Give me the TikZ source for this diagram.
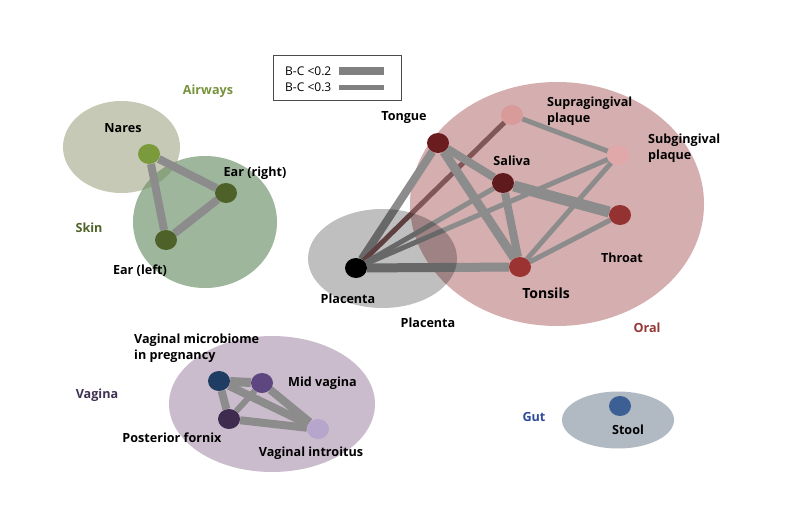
\documentclass[tikz,border=0pt]{standalone}
\usepackage{fontspec}
\setmainfont{Open Sans}
\usetikzlibrary{shapes.geometric}
\pgfdeclarelayer{bg}
\pgfdeclarelayer{edgelayer}
\pgfdeclarelayer{shade}
\pgfsetlayers{bg,edgelayer,shade,main}
\definecolor{airfill}{RGB}{197,201,181}
\definecolor{skinfill}{RGB}{158,182,156}
\definecolor{overlapgreen}{RGB}{138,163,126}
\definecolor{oralfill}{RGB}{213,174,175}
\definecolor{vagfill}{RGB}{203,188,205}
\definecolor{gutfill}{RGB}{177,185,195}
\definecolor{edgegray}{RGB}{140,140,140}
\definecolor{edgebrown}{RGB}{128,86,86}
\definecolor{legbar}{RGB}{128,128,128}
\definecolor{cNares}{RGB}{122,154,60}
\definecolor{cEar}{RGB}{78,97,40}
\definecolor{cTongue}{RGB}{106,28,30}
\definecolor{cSupra}{RGB}{217,154,154}
\definecolor{cSub}{RGB}{224,168,168}
\definecolor{cSaliva}{RGB}{94,26,28}
\definecolor{cThroat}{RGB}{148,50,50}
\definecolor{cTonsils}{RGB}{155,51,51}
\definecolor{cVMP}{RGB}{31,61,99}
\definecolor{cMid}{RGB}{94,71,128}
\definecolor{cPost}{RGB}{62,43,78}
\definecolor{cIntro}{RGB}{182,166,204}
\definecolor{cStool}{RGB}{60,95,148}
\definecolor{tAir}{RGB}{119,147,60}
\definecolor{tSkin}{RGB}{79,98,40}
\definecolor{tOral}{RGB}{149,55,53}
\definecolor{tVag}{RGB}{64,49,81}
\definecolor{tGut}{RGB}{46,74,155}
\begin{document}
\begin{tikzpicture}[x=1pt,y=-1pt,
  site/.style={ellipse, minimum width=22pt, minimum height=20pt, inner sep=0pt},
  thk/.style={draw=edgegray, line width=8pt},
  thn/.style={draw=edgegray, line width=5pt},
  lab/.style={font=\bfseries\fontsize{12.6}{15.5}\selectfont, inner sep=0pt},
  grp/.style={font=\bfseries\fontsize{12.6}{15.5}\selectfont, inner sep=0pt},
  legtxt/.style={font=\fontsize{12}{14}\selectfont, inner sep=0pt, anchor=west},
]
\useasboundingbox (0,0) rectangle (800,530);
\begin{pgfonlayer}{bg}
\fill[white] (0,0) rectangle (800,530);
% group regions
\fill[airfill] (121.5,147) ellipse [x radius=58.5pt, y radius=46pt];
\fill[skinfill] (205,222) ellipse [x radius=72pt, y radius=66pt];
\begin{scope}
  \clip (121.5,147) ellipse [x radius=58.5pt, y radius=46pt];
  \fill[overlapgreen] (205,222) ellipse [x radius=72pt, y radius=66pt];
\end{scope}
\fill[oralfill] (557,204) ellipse [x radius=147pt, y radius=122pt];
\fill[vagfill] (272,404) ellipse [x radius=103pt, y radius=68pt];
\fill[gutfill] (618,420) ellipse [x radius=56pt, y radius=28.5pt];
\end{pgfonlayer}
\begin{pgfonlayer}{shade}
\fill[black, fill opacity=0.25] (382.5,258.5) ellipse [x radius=74.5pt, y radius=49.5pt];
\end{pgfonlayer}

% nodes
\node[site, fill=cNares] (nares) at (149,154) {};
\node[site, fill=cEar] (earR) at (226,193) {};
\node[site, fill=cEar] (earL) at (166,240) {};
\node[site, fill=cTongue] (tongue) at (438,143) {};
\node[site, fill=cSupra] (supra) at (512,115) {};
\node[site, fill=cSub] (sub) at (618,155) {};
\node[site, fill=cSaliva] (saliva) at (503,183) {};
\node[site, fill=cThroat] (throat) at (620,215) {};
\node[site, fill=cTonsils] (tonsils) at (520,267) {};
\node[site, fill=black] (plac) at (356,268) {};
\node[site, fill=cVMP] (vmp) at (219,381) {};
\node[site, fill=cMid] (mid) at (262,383) {};
\node[site, fill=cPost] (post) at (229,419) {};
\node[site, fill=cIntro] (intro) at (318,429) {};
\node[site, fill=cStool] (stool) at (620,406) {};

% edges
\begin{pgfonlayer}{edgelayer}
\draw[thk] (nares) -- (earR);
\draw[thk] (nares) -- (earL);
\draw[thk] (earR) -- (earL);
\draw[thk] (plac) -- (tongue);
\draw[draw=edgebrown, line width=5pt] (plac) -- (supra);
\draw[thn] (plac) -- (saliva);
\draw[thn] (plac) -- (sub);
\draw[thk, line width=9pt] (plac) -- (tonsils);
\draw[thk] (tongue) -- (saliva);
\draw[thk, line width=9pt] (tongue) -- (tonsils);
\draw[thk, line width=11pt] (saliva) -- (throat);
\draw[thk] (saliva) -- (tonsils);
\draw[thn] (supra) -- (sub);
\draw[thn] (sub) -- (tonsils);
\draw[thn] (throat) -- (tonsils);
\draw[thk, line width=9pt] (vmp) -- (mid);
\draw[thk] (vmp) -- (post);
\draw[thk] (vmp) -- (intro);
\draw[thn, line width=6pt] (mid) -- (post);
\draw[thk] (mid) -- (intro);
\draw[thk] (post) -- (intro);
\end{pgfonlayer}

% labels
\node[grp, text=tAir] (lAir) at (208,91) {Airways};
\node[lab] (lNares) at (123,128) {Nares};
\node[lab] (lEarR) at (255,173) {Ear (right)};
\node[grp, text=tSkin] (lSkin) at (89,228) {Skin};
\node[lab] (lEarL) at (140,271) {Ear (left)};
\node[lab] (lTongue) at (404,118) {Tongue};
\node[lab, anchor=north west, align=left] (lSupra) at (547,97) {Supragingival\\plaque};
\node[lab, anchor=north west, align=left] (lSub) at (648,134) {Subgingival\\plaque};
\node[lab] (lSaliva) at (512,161) {Saliva};
\node[lab] (lThroat) at (622,258) {Throat};
\node[lab, font=\bfseries\fontsize{14}{16}\selectfont] (lTonsils) at (546,293) {Tonsils};
\node[lab] (lPlac) at (348,299) {Placenta};
\node[lab] (gPlac) at (428,323) {Placenta};
\node[grp, text=tOral] (lOral) at (647,328) {Oral};
\node[lab, anchor=north west, align=left] (lVMP) at (134,334) {Vaginal microbiome\\in pregnancy};
\node[lab, anchor=west] (lMid) at (288,383) {Mid vagina};
\node[grp, text=tVag] (lVag) at (97,395) {Vagina};
\node[lab] (lPost) at (172,438) {Posterior fornix};
\node[lab] (lIntro) at (311,453) {Vaginal introitus};
\node[grp, text=tGut] (lGut) at (534,417) {Gut};
\node[lab] (lStool) at (628,430) {Stool};

% legend
\node[draw=black!70, line width=0.8pt, minimum width=128pt, minimum height=45pt, inner sep=0pt] (legend) at (337,77.5) {};
\node[legtxt] (leg1) at (285,71) {B-C <0.2};
\node[legtxt] (leg2) at (285,87) {B-C <0.3};
\fill[legbar] (339,67) rectangle (384,75);
\fill[legbar] (339,84.5) rectangle (384,89.5);
\end{tikzpicture}
\end{document}
